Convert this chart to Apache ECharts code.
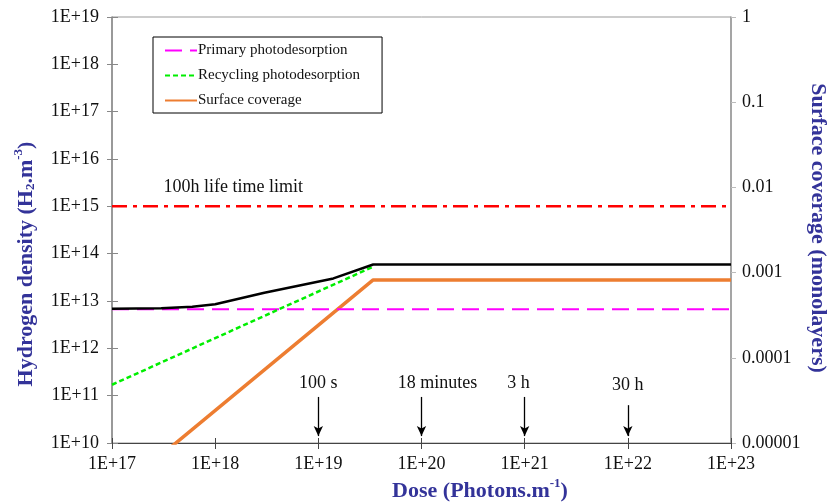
<!DOCTYPE html>
<html>
<head>
<meta charset="utf-8">
<script src="https://cdn.jsdelivr.net/npm/echarts@6/dist/echarts.min.js"></script>
<style>
  html, body { margin: 0; padding: 0; background: #fff; }
  #chart { width: 828px; height: 504px; }
</style>
</head>
<body>
<div id="chart"></div>
<script>
// Hydrogen density build-up vs. photon dose (log-log), with surface coverage on the right axis.

const doseMin = 1e17, doseMax = 1e23;
const densityMin = 1e10, densityMax = 1e19;
const coverageMin = 1e-5, coverageMax = 1;

// Primary photodesorption density (H2/m^3), flat over dose
const primaryDose = [1e17, 1e23];
const primaryDensity = [6.7e12, 6.7e12];

// Recycling photodesorption density (H2/m^3)
const recyclingDose = [1e17, 3.4e19];
const recyclingDensity = [1.7e11, 5.3e13];

// Surface coverage (monolayers), right axis
const coverageDose = [1e17, 3.4e19, 1e23];
const coverageValue = [2.4e-6, 8.2e-4, 8.2e-4];

// Total density (H2/m^3)
const totalDose = [1e17, 3e17, 6e17, 1e18, 3e18, 1.4e19, 3.4e19, 1e23];
const totalDensity = [6.9e12, 7.0e12, 7.6e12, 8.5e12, 1.5e13, 3.0e13, 5.9e13, 5.9e13];

// 100 h lifetime limit (H2/m^3)
const limitDose = [1e17, 1e23];
const limitDensity = [1e15, 1e15];
const limitLabel = '100h life time limit';
const limitLabelAt = [1.5e18, 2.5e15];

// Elapsed-time markers: arrow at a dose, text above it
const markerText = ['100 s', '18 minutes', '3 h', '30 h'];
const markerDose = [1e19, 1e20, 1e21, 1e22];
const markerTop = [9.4e10, 9.4e10, 9.4e10, 6.3e10];
const markerBottom = [1.4e10, 1.4e10, 1.4e10, 1.4e10];
const markerTextDose = [1e19, 1.43e20, 8.7e20, 1e22];
const markerTextDensity = [1.86e11, 1.86e11, 1.86e11, 1.68e11];

const seriesNames = ['Primary photodesorption', 'Recycling photodesorption', 'Surface coverage'];

const SERIF = '"Liberation Serif", "Times New Roman", serif';
const TITLE_COLOR = '#333399';

const zip = (xs, ys) => xs.map((x, i) => [x, ys[i]]);
const exp10 = v => Math.round(Math.log10(v));

const chart = echarts.init(document.getElementById('chart'), null, { renderer: 'canvas' });

const baseAxisLabel = { fontFamily: SERIF, fontSize: 18, color: '#111' };

const option = {
  animation: false,
  backgroundColor: '#fff',
  grid: { left: 112, right: 97, top: 17, bottom: 61, show: true, borderColor: '#999', borderWidth: 1 },
  legend: {
    data: seriesNames,
    orient: 'vertical',
    left: 153, top: 37,
    backgroundColor: '#fff',
    borderColor: '#000', borderWidth: 1, borderRadius: 0,
    padding: [6, 22, 5, 11],
    itemWidth: 32, itemHeight: 14, itemGap: 10,
    itemStyle: { opacity: 0 },
    textStyle: { fontFamily: SERIF, fontSize: 15, color: '#111', padding: [0, 0, 0, -4] }
  },
  xAxis: [{
    type: 'log', logBase: 10, min: doseMin, max: doseMax, splitNumber: 6,
    axisLine: { lineStyle: { color: '#444', width: 1 } },
    axisTick: { show: true, length: 6, lineStyle: { color: '#444' } },
    axisLabel: Object.assign({ margin: 12, formatter: v => '1E+' + exp10(v) }, baseAxisLabel),
    splitLine: { show: false }
  }, {
    // inner half of the cross tick marks
    type: 'log', logBase: 10, min: doseMin, max: doseMax, splitNumber: 6, position: 'bottom',
    axisLine: { show: false },
    axisTick: { show: true, inside: true, length: 5, lineStyle: { color: '#444' } },
    axisLabel: { show: false }, splitLine: { show: false }
  }],
  yAxis: [{
    type: 'log', logBase: 10, min: densityMin, max: densityMax, splitNumber: 9, position: 'left',
    axisLine: { show: true, lineStyle: { color: '#888', width: 1.5 } },
    axisTick: { show: true, length: 5, lineStyle: { color: '#888' } },
    axisLabel: Object.assign({ margin: 13, formatter: v => '1E+' + exp10(v) }, baseAxisLabel),
    splitLine: { show: false }
  }, {
    type: 'log', logBase: 10, min: coverageMin, max: coverageMax, splitNumber: 5, position: 'right',
    axisLine: { show: true, lineStyle: { color: '#999', width: 1.5 } },
    axisTick: { show: true, length: 5, lineStyle: { color: '#bbb' } },
    axisLabel: Object.assign({
      margin: 11,
      formatter: v => { const e = exp10(v); return e >= 0 ? '1' : Math.pow(10, e).toFixed(-e); }
    }, baseAxisLabel),
    splitLine: { show: false }
  }, {
    // inner half of the cross tick marks on the left axis
    type: 'log', logBase: 10, min: densityMin, max: densityMax, splitNumber: 9, position: 'left',
    axisLine: { show: false },
    axisTick: { show: true, inside: true, length: 6, lineStyle: { color: '#888' } },
    axisLabel: { show: false }, splitLine: { show: false }
  }],
  series: [{
    name: 'Primary photodesorption', type: 'line', yAxisIndex: 0, symbol: 'none', z: 3,
    data: zip(primaryDose, primaryDensity),
    itemStyle: { color: '#ff00ff' },
    lineStyle: { color: '#ff00ff', width: 2, type: [17, 8] }
  }, {
    name: 'Recycling photodesorption', type: 'line', yAxisIndex: 0, symbol: 'none', z: 3,
    data: zip(recyclingDose, recyclingDensity),
    itemStyle: { color: '#00ee00' },
    lineStyle: { color: '#00ee00', width: 2.5, type: [5, 3] }
  }, {
    name: 'Surface coverage', type: 'line', yAxisIndex: 1, symbol: 'none', z: 2,
    data: zip(coverageDose, coverageValue),
    itemStyle: { color: '#ED7D31' },
    lineStyle: { color: '#ED7D31', width: 3.5 }
  }, {
    name: 'Total', type: 'line', yAxisIndex: 0, symbol: 'none', z: 4,
    data: zip(totalDose, totalDensity),
    itemStyle: { color: '#000' },
    lineStyle: { color: '#000', width: 2.5 }
  }, {
    name: 'Limit', type: 'line', yAxisIndex: 0, symbol: 'none', z: 3,
    data: zip(limitDose, limitDensity),
    itemStyle: { color: '#ff0000' },
    lineStyle: { color: '#ff0000', width: 2.5, type: [15, 6, 4, 6] },
    markLine: {
      silent: true, symbol: ['none', 'arrow'], symbolSize: [7, 10],
      label: { show: false },
      lineStyle: { color: '#000', width: 1.3, type: 'solid' },
      data: markerDose.map((d, i) => [{ coord: [d, markerTop[i]] }, { coord: [d, markerBottom[i]] }])
    }
  }]
};

chart.setOption(option);

// Text annotations and axis titles
const toPx = (x, y) => chart.convertToPixel({ xAxisIndex: 0, yAxisIndex: 0 }, [x, y]);
const graphics = [];
const lp = toPx(limitLabelAt[0], limitLabelAt[1]);
graphics.push({
  type: 'text', x: lp[0], y: lp[1], z: 10,
  style: { text: limitLabel, fontFamily: SERIF, fontSize: 18, fill: '#111', align: 'center', verticalAlign: 'middle' }
});
markerText.forEach((t, i) => {
  const p = toPx(markerTextDose[i], markerTextDensity[i]);
  graphics.push({
    type: 'text', x: p[0], y: p[1], z: 10,
    style: { text: t, fontFamily: SERIF, fontSize: 18, fill: '#111', align: 'center', verticalAlign: 'middle' }
  });
});

const titleRich = {
  b: { fontFamily: SERIF, fontSize: 22, fontWeight: 'bold', fill: TITLE_COLOR, color: TITLE_COLOR, lineHeight: 26, verticalAlign: 'bottom' },
  sup: { fontFamily: SERIF, fontSize: 13, fontWeight: 'bold', fill: TITLE_COLOR, color: TITLE_COLOR, lineHeight: 26, verticalAlign: 'top', padding: [1, 0, 0, 0] },
  sub: { fontFamily: SERIF, fontSize: 13, fontWeight: 'bold', fill: TITLE_COLOR, color: TITLE_COLOR, lineHeight: 26, verticalAlign: 'bottom', padding: [0, 0, 0, 0] }
};
function title(text, x, y, rotation) {
  return {
    type: 'text', x, y, rotation, z: 10,
    style: { text, rich: titleRich, align: 'center', verticalAlign: 'middle' }
  };
}
graphics.push(title('{b|Hydrogen density (H}{sub|2}{b|.m}{sup|-3}{b|)}', 24, 264, Math.PI / 2));
graphics.push(title('{b|Surface coverage (monolayers)}', 820, 228, -Math.PI / 2));
graphics.push(title('{b|Dose (Photons.m}{sup|-1}{b|)}', 480, 489, 0));

chart.setOption({ graphic: graphics });
</script>
</body>
</html>
